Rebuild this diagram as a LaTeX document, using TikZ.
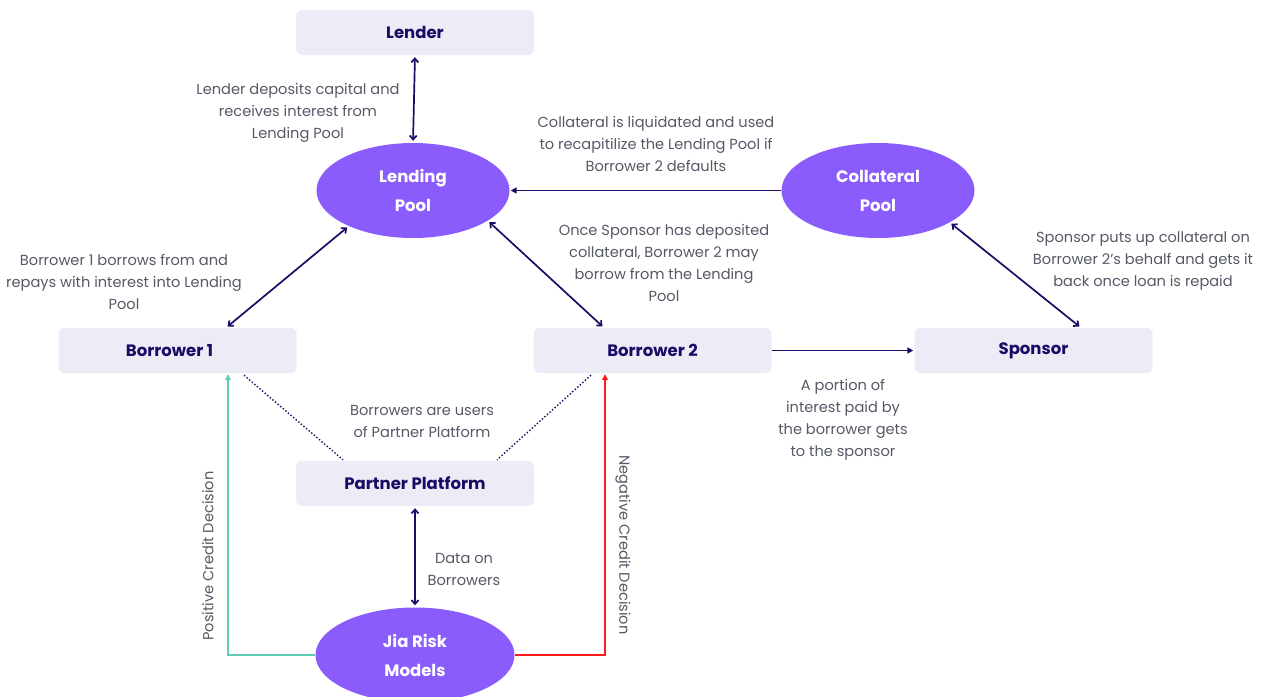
\documentclass[tikz,border=0pt]{standalone}
\usepackage{fontspec}
\setmainfont{Poppins}
\usetikzlibrary{arrows.meta,shapes.geometric,calc}
\definecolor{boxfill}{HTML}{ECECF6}
\definecolor{poolfill}{HTML}{8B5CFC}
\definecolor{navy}{HTML}{1C0A66}
\definecolor{labelgray}{HTML}{555966}
\definecolor{posgreen}{HTML}{62CDB6}
\definecolor{negred}{HTML}{FF1A1A}
\begin{document}
\begin{tikzpicture}[x=1pt,y=-1pt,
  entity/.style={rectangle,rounded corners=6pt,fill=boxfill,minimum width=238pt,minimum height=45pt,
    text=navy,font=\fontsize{16.5}{20}\selectfont\bfseries},
  pool/.style={ellipse,fill=poolfill,minimum width=193pt,minimum height=95pt,inner sep=0pt,
    text=white,align=center,font=\fontsize{16.5}{29}\selectfont\bfseries},
  note/.style={text=labelgray,align=center,inner sep=0pt,font=\fontsize{14.6}{22}\selectfont},
  flow/.style={navy,line width=1.7pt,{Straight Barb[length=4pt,width=7pt]}-{Straight Barb[length=4pt,width=7pt]},shorten <=2pt,shorten >=2pt},
  oneway/.style={navy,line width=1.7pt,-{Triangle[length=6pt,width=6pt]},shorten >=1pt},
  decision/.style={line width=1.7pt,-{Triangle[length=6pt,width=6pt]},shorten >=1pt},
  membership/.style={navy,line width=1.4pt,dotted}]
\useasboundingbox (0,0) rectangle (1265,696);

% entities
\node[entity] (lender) at (415,32.5) {Lender};
\node[entity] (b1) at (177.5,350.5) {\hspace*{-16pt}Borrower 1};
\node[entity] (b2) at (652.5,350.5) {Borrower 2};
\node[entity] (sponsor) at (1033.5,350.5) {Sponsor};
\node[entity] (partner) at (415,483.5) {Partner Platform};

% pools
\node[pool] (lpool) at (413,190.5) {Lending\\Pool};
\node[pool] (cpool) at (878,190.5) {Collateral\\Pool};
\node[pool,minimum width=199pt] (jia) at (415,655) {Jia Risk\\Models};

% attachment points on the boxes
\coordinate (b1top) at ($(b1.north)+(48.5,0)$);
\coordinate (b2top) at ($(b2.north)+(-48.5,0)$);
\coordinate (spontop) at ($(sponsor.north)+(47.5,0)$);
\coordinate (b1low) at ($(b1.south)+(50.5,0)$);
\coordinate (b2low) at ($(b2.south)+(-47.5,0)$);
\coordinate (b1dot) at ($(b1.south)+(66.5,2)$);
\coordinate (b2dot) at ($(b2.south)+(-61.5,2)$);
\coordinate (pdotl) at ($(partner.north)+(-72,-1)$);
\coordinate (pdotr) at ($(partner.north)+(82,-1)$);

% connectors
\draw[flow] (lender.south) -- (lpool.north);
\draw[flow] (lpool.209) -- (b1top);
\draw[flow] (lpool.338) -- (b2top);
\draw[oneway] (cpool.west) -- (lpool.east);
\draw[flow] (cpool.336) -- (spontop);
\draw[oneway] (b2.east) -- (sponsor.west);
\draw[flow] (partner.south) -- (jia.north);
\draw[decision,posgreen] (jia.west) -| (b1low);
\draw[decision,negred] (jia.east) -| (b2low);
\draw[membership] (b1dot) -- (pdotl);
\draw[membership] (b2dot) -- (pdotr);

% labels
\node[note] (lnote) at (298,113) {Lender deposits capital and\\receives interest from\\Lending Pool};
\node[note] (cnote) at (656,144) {Collateral is liquidated and used\\to recapitilize the Lending Pool if\\Borrower 2 defaults};
\node[note] (b1note) at (124,282) {Borrower 1 borrows from and\\repays with interest into Lending\\Pool};
\node[note] (b2note) at (664,263) {Once Sponsor has deposited\\collateral, Borrower 2 may\\borrow from the Lending\\Pool};
\node[note] (snote) at (1143,261) {Sponsor puts up collateral on\\Borrower 2's behalf and gets it\\back once loan is repaid};
\node[note] (inote) at (843,419.5) {A portion of\\interest paid by\\the borrower gets\\to the sponsor};
\node[note] (pnote) at (422,421) {Borrowers are users\\of Partner Platform};
\node[note] (dnote) at (464,569) {Data on\\Borrowers};
\node[note,rotate=90] (posnote) at (208,556) {Positive Credit Decision};
\node[note,rotate=-90] (negnote) at (623,545) {Negative Credit Decision};
\end{tikzpicture}
\end{document}
